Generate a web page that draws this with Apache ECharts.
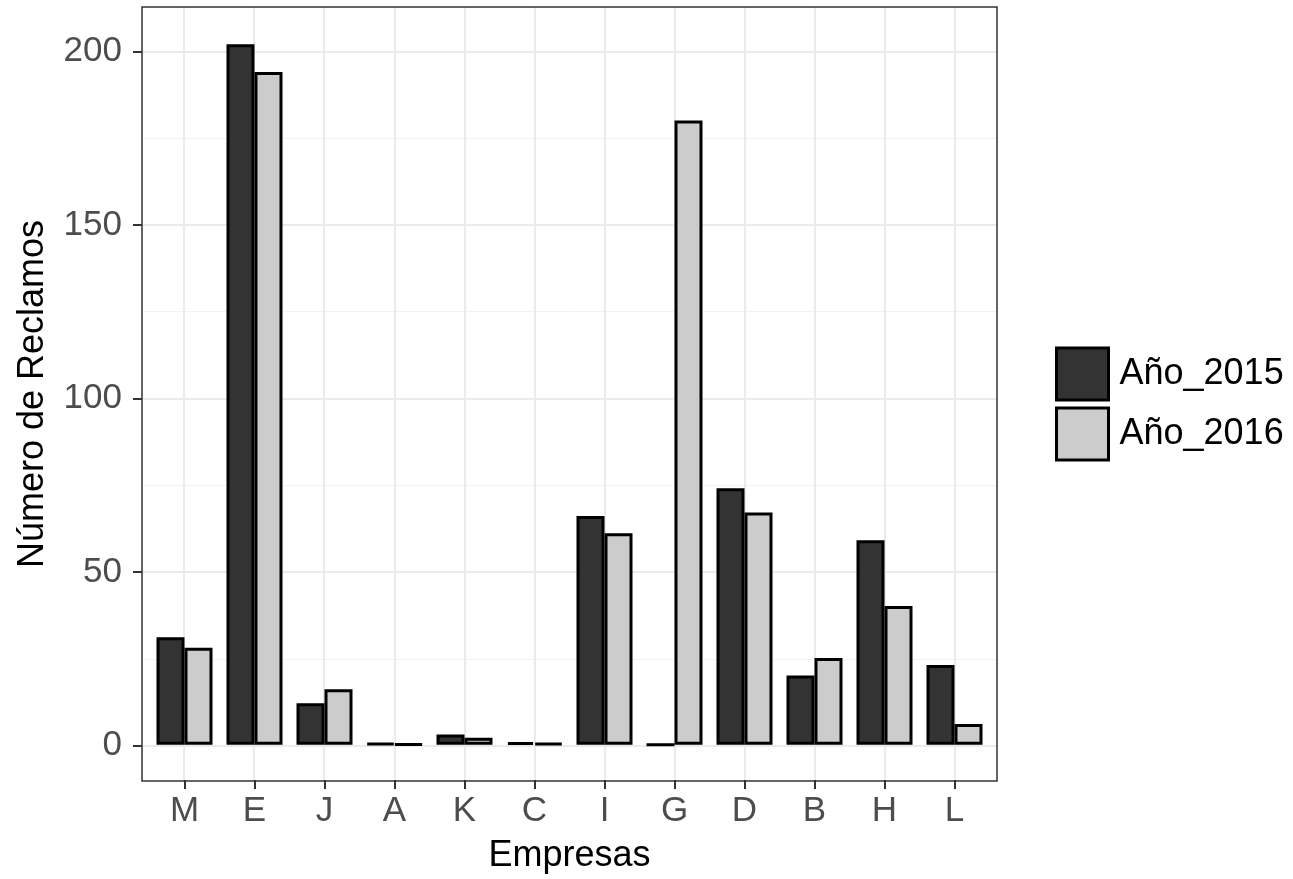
<!DOCTYPE html>
<html>
<head>
<meta charset="utf-8">
<script src="https://cdn.jsdelivr.net/npm/echarts@6/dist/echarts.min.js"></script>
<style>
html,body{margin:0;padding:0;background:#fff;}
#chart{width:1293px;height:879px;}
</style>
</head>
<body>
<div id="chart"></div>
<script>
const categories = ['M','E','J','A','K','C','I','G','D','B','H','L'];
const seriesNames = ['Año_2015','Año_2016'];
const values2015 = [31, 202, 12, 0.4, 3, 0.8, 66, 0, 74, 20, 59, 23];
const values2016 = [28, 194, 16, 0.2, 2, 0.4, 61, 180, 67, 25, 40, 6];
const yTicks = [0, 50, 100, 150, 200];
const xTitle = 'Empresas';
const yTitle = 'Número de Reclamos';

const FONT = "'Liberation Sans', Arial, sans-serif";
const yMin = -10.15, yMax = 212.75;
const minorTicks = yTicks.slice(0, -1).map((v, i) => (v + yTicks[i + 1]) / 2);
const catPositions = categories.map((_, i) => i + 1);

const chart = echarts.init(document.getElementById('chart'), null, {renderer: 'canvas'});
chart.setOption({
  backgroundColor: '#fff',
  animation: false,
  textStyle: {fontFamily: FONT},
  grid: [
    {left: 142, top: 7, width: 855, height: 774, show: true, z: 10,
     backgroundColor: 'transparent', borderColor: '#333333', borderWidth: 1.5},
    {left: 149.5, top: 7, width: 840, height: 774}
  ],
  xAxis: [
    {gridIndex: 0, type: 'value', min: 0.4, max: 12.6,
     axisLine: {show: false, onZero: false}, axisLabel: {show: false},
     axisTick: {show: false, customValues: catPositions},
     splitLine: {show: true, lineStyle: {color: '#EBEBEB', width: 2}}},
    {gridIndex: 1, type: 'category', data: categories, position: 'bottom',
     axisLine: {show: false, onZero: false},
     axisTick: {show: true, alignWithLabel: true, length: 9, lineStyle: {color: '#333333', width: 2}},
     axisLabel: {color: '#4D4D4D', fontSize: 35, margin: 14, fontFamily: FONT},
     splitLine: {show: false},
     name: xTitle, nameLocation: 'middle', nameGap: 58,
     nameTextStyle: {color: '#000', fontSize: 36, fontFamily: FONT}}
  ],
  yAxis: [
    {gridIndex: 0, type: 'value', min: yMin, max: yMax,
     axisLine: {show: false, onZero: false},
     axisTick: {show: true, length: 9, customValues: yTicks, lineStyle: {color: '#333333', width: 2}},
     axisLabel: {color: '#4D4D4D', fontSize: 35, margin: 20, fontFamily: FONT, customValues: yTicks},
     splitLine: {show: true, lineStyle: {color: '#EBEBEB', width: 2}},
     name: yTitle, nameLocation: 'middle', nameGap: 91,
     nameTextStyle: {color: '#000', fontSize: 36, fontFamily: FONT}, z: 1},
    {gridIndex: 0, type: 'value', min: yMin, max: yMax, position: 'left',
     axisLine: {show: false, onZero: false}, axisLabel: {show: false},
     axisTick: {show: false, customValues: minorTicks},
     splitLine: {show: true, lineStyle: {color: '#F2F2F2', width: 1}}, z: 0},
    {gridIndex: 1, type: 'value', min: yMin, max: yMax, show: false,
     axisLine: {onZero: false},
     splitLine: {show: false}}
  ],
  legend: {
    orient: 'vertical', left: 1055, top: 346.5, padding: 0,
    itemWidth: 52, itemHeight: 52, itemGap: 5, icon: 'rect',
    data: seriesNames,
    itemStyle: {borderColor: '#000', borderWidth: 3},
    textStyle: {color: '#000', fontSize: 36, fontFamily: FONT, padding: [0, 0, 0, 6]}
  },
  series: [
    {name: seriesNames[0], type: 'bar', xAxisIndex: 1, yAxisIndex: 2, data: values2015,
     barWidth: '40%', barGap: '0%',
     itemStyle: {color: '#333333', borderColor: '#000', borderWidth: 3}},
    {name: seriesNames[1], type: 'bar', xAxisIndex: 1, yAxisIndex: 2, data: values2016,
     barWidth: '40%', barGap: '0%',
     itemStyle: {color: '#CCCCCC', borderColor: '#000', borderWidth: 3}}
  ]
});
</script>
</body>
</html>
